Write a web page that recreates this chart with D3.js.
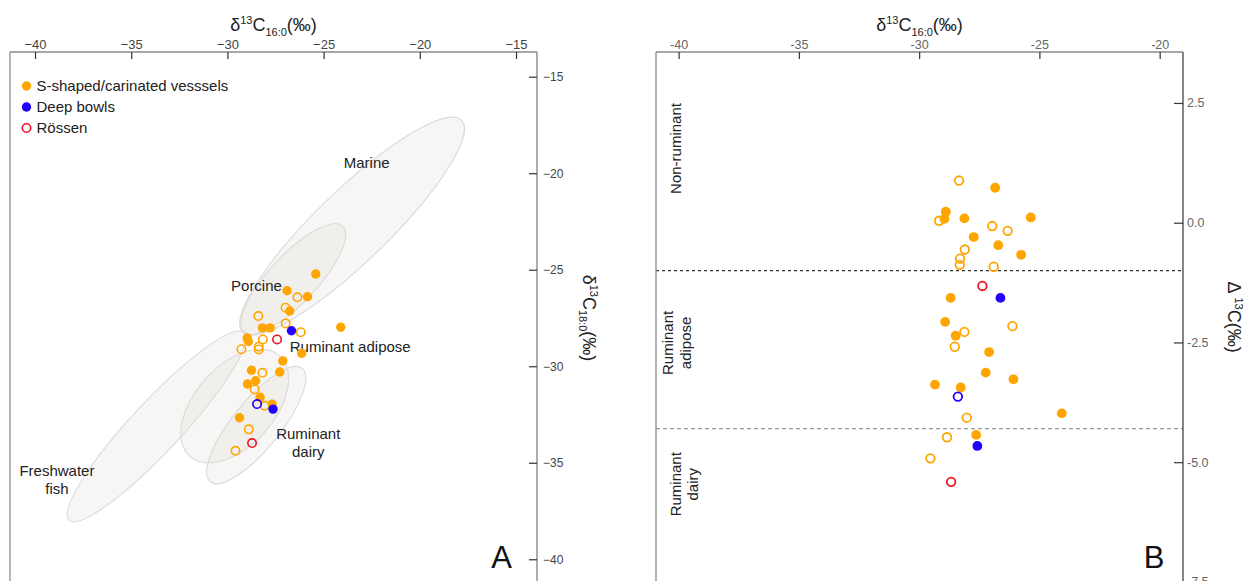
<!DOCTYPE html>
<html>
<head>
<meta charset="utf-8">
<script src="https://cdn.jsdelivr.net/npm/d3@7"></script>
<style>
  html, body { margin: 0; padding: 0; background: #fff; }
  svg { display: block; font-family: "Liberation Sans", Arial, Helvetica, sans-serif; }
</style>
</head>
<body>
<svg id="chart" width="1251" height="581"></svg>
<script>
// ---------------- data ----------------
const groupNames = ["S-shaped/carinated vesssels", "Deep bowls", "Rössen"];

// Panel A: δ13C16:0 (x) against δ13C18:0 (y), ‰
const sShapedFilled16A = [-25.41, -26.90, -25.84, -26.76, -28.18, -27.78, -24.11, -28.97, -28.91, -26.14, -27.12, -28.75, -27.28, -28.53, -28.96, -28.30, -27.68, -29.37];
const sShapedFilled18A = [-25.22, -26.09, -26.40, -27.14, -28.01, -28.01, -27.98, -28.54, -28.72, -29.33, -29.72, -30.21, -30.30, -30.75, -30.92, -31.61, -31.96, -32.67];
const sShapedOpen16A = [-26.36, -26.98, -28.39, -26.97, -26.19, -28.16, -29.27, -28.37, -28.37, -28.18, -28.58, -28.06, -28.89, -29.58];
const sShapedOpen18A = [-26.43, -26.97, -27.40, -27.78, -28.24, -28.61, -29.12, -28.99, -29.13, -30.34, -31.20, -32.05, -33.27, -34.38];
const bowlsFilled16A = [-26.67, -27.63];
const bowlsFilled18A = [-28.16, -32.22];
const bowlsOpen16A = [-28.46];
const bowlsOpen18A = [-31.96];
const rossen16A = [-27.42, -28.72];
const rossen18A = [-28.61, -33.98];

// Panel B: δ13C16:0 (x) against Δ13C (y), ‰
const sShapedFilled16B = [-26.84, -28.89, -28.95, -28.12, -25.36, -27.73, -26.71, -25.76, -28.69, -28.92, -28.48, -27.09, -27.23, -26.08, -29.34, -28.27, -24.07, -27.63];
const sShapedFilledDB = [0.73, 0.23, 0.08, 0.09, 0.11, -0.30, -0.47, -0.67, -1.57, -2.07, -2.36, -2.70, -3.13, -3.27, -3.38, -3.44, -3.98, -4.43];
const sShapedOpen16B = [-28.34, -29.17, -26.96, -26.32, -28.10, -28.30, -28.31, -26.90, -28.12, -26.12, -28.52, -28.02, -28.84, -29.53];
const sShapedOpenDB = [0.88, 0.04, -0.07, -0.17, -0.56, -0.75, -0.88, -0.92, -2.28, -2.16, -2.59, -4.07, -4.48, -4.92];
const bowlsFilled16B = [-26.62, -27.58];
const bowlsFilledDB = [-1.57, -4.66];
const bowlsOpen16B = [-28.39];
const bowlsOpenDB = [-3.63];
const rossen16B = [-27.37, -28.67];
const rossenDB = [-1.32, -5.41];

// Reference ranges (ellipses) in panel A, data units
const refNames = ["Marine", "Porcine", "Freshwater fish", "Ruminant adipose", "Ruminant dairy"];
const refCx = [-23.52, -26.58, -33.69, -29.62, -28.50];
const refCy = [-22.74, -25.48, -33.12, -32.06, -33.05];
const refSemiMajor = [7.91, 3.76, 6.66, 3.50, 3.79];
const refSemiMinor = [1.87, 1.24, 1.30, 2.07, 1.24];
const refAngle = [44, 47, 47, 48, 51];

// Ticks
const ticksA16 = [-40, -35, -30, -25, -20, -15];
const ticksA18 = [-15, -20, -25, -30, -35, -40];
const ticksB16 = [-40, -35, -30, -25, -20];
const ticksBD = [2.5, 0, -2.5, -5, -7.5];

// Δ13C boundaries in panel B
const boundaryValues = [-1, -4.3];

// ---------------- styles ----------------
const groupColor = ["#ffa500", "#2200ff", "#f0141e"];
const FONT = '"Liberation Sans", Arial, Helvetica, sans-serif';

const svg = d3.select("#chart");

// ---------------- scales ----------------
const xA = d3.scaleLinear().domain([-41.30, -13.91]).range([10, 537]);
const yA = d3.scaleLinear().domain([-13.72, -42.11]).range([52, 600]);
const xB = d3.scaleLinear().domain([-40.94, -19.03]).range([656, 1183]);
const yB = d3.scaleLinear().domain([3.564, -7.877]).range([52, 600]);

// series tables
const seriesA = [
  { g: 0, filled: true,  x: sShapedFilled16A, y: sShapedFilled18A },
  { g: 0, filled: false, x: sShapedOpen16A,   y: sShapedOpen18A },
  { g: 1, filled: true,  x: bowlsFilled16A,   y: bowlsFilled18A },
  { g: 1, filled: false, x: bowlsOpen16A,     y: bowlsOpen18A },
  { g: 2, filled: false, x: rossen16A,        y: rossen18A }
];
const seriesB = [
  { g: 0, filled: true,  x: sShapedFilled16B, y: sShapedFilledDB },
  { g: 0, filled: false, x: sShapedOpen16B,   y: sShapedOpenDB },
  { g: 1, filled: true,  x: bowlsFilled16B,   y: bowlsFilledDB },
  { g: 1, filled: false, x: bowlsOpen16B,     y: bowlsOpenDB },
  { g: 2, filled: false, x: rossen16B,        y: rossenDB }
];

// δ13C title with super/subscripts
function deltaTitle(text, sub, size) {
  const s = Math.round(size * 0.62);
  text.append("tspan").text("δ");
  text.append("tspan").attr("font-size", s).attr("dy", -size * 0.4).text("13");
  text.append("tspan").attr("dy", size * 0.4).text("C");
  text.append("tspan").attr("font-size", s).attr("dy", size * 0.25).text(sub);
  text.append("tspan").attr("dy", -size * 0.25).text("(‰)");
}

function drawPoints(g, series, x, y, rFilled, rOpen, sw) {
  series.forEach(s => {
    const pts = s.x.map((v, i) => [v, s.y[i]]);
    g.append("g").selectAll("circle").data(pts).join("circle")
      .attr("cx", d => x(d[0]))
      .attr("cy", d => y(d[1]))
      .attr("r", s.filled ? rFilled : rOpen)
      .attr("fill", s.filled ? groupColor[s.g] : "none")
      .attr("stroke", s.filled ? "none" : groupColor[s.g])
      .attr("stroke-width", s.filled ? 0 : sw);
  });
}

function frame(x, y, leftCol, topCol, rightCol) {
  const [x0, x1] = x.range(), [y0, y1] = y.range();
  svg.append("line").attr("x1", x0).attr("x2", x0).attr("y1", y0).attr("y2", y1).attr("stroke", leftCol).attr("stroke-width", 1.3);
  svg.append("line").attr("x1", x0).attr("x2", x1).attr("y1", y0).attr("y2", y0).attr("stroke", topCol).attr("stroke-width", 1.3);
  svg.append("line").attr("x1", x1).attr("x2", x1).attr("y1", y0).attr("y2", y1).attr("stroke", rightCol).attr("stroke-width", 1.3);
}

function styleAxis(g, size, col) {
  g.select(".domain").remove();
  g.selectAll(".tick line").attr("stroke", "#333").attr("stroke-width", 1.2);
  g.selectAll(".tick text").attr("fill", col).attr("font-size", size).attr("font-family", FONT);
}

// ================= Panel A =================
const gA = svg.append("g");

// reference ellipses
const kA = xA(1) - xA(0);
refNames.forEach((n, i) => {
  gA.append("ellipse")
    .attr("transform", `translate(${xA(refCx[i])},${yA(refCy[i])}) rotate(${-refAngle[i]})`)
    .attr("rx", refSemiMajor[i] * kA)
    .attr("ry", refSemiMinor[i] * kA)
    .attr("fill", "rgb(222,216,208)")
    .attr("fill-opacity", 0.24)
    .attr("stroke", "#dadada")
    .attr("stroke-width", 1.1);
});

// reference labels
const labA = gA.append("g").attr("font-size", 15).attr("fill", "#222");
labA.append("text").attr("x", xA(-22.76)).attr("y", yA(-19.73)).attr("text-anchor", "middle").text("Marine");
labA.append("text").attr("x", xA(-28.49)).attr("y", yA(-26.09)).attr("text-anchor", "middle").text("Porcine");
labA.append("text").attr("x", xA(-26.76)).attr("y", yA(-29.26)).attr("text-anchor", "start").text("Ruminant adipose");
const dairyA = labA.append("text").attr("y", yA(-33.79)).attr("text-anchor", "middle");
dairyA.append("tspan").attr("x", xA(-25.80)).text("Ruminant");
dairyA.append("tspan").attr("x", xA(-25.80)).attr("dy", 18).text("dairy");
const fishA = labA.append("text").attr("y", yA(-35.67)).attr("text-anchor", "middle");
fishA.append("tspan").attr("x", xA(-38.86)).text("Freshwater");
fishA.append("tspan").attr("x", xA(-38.86)).attr("dy", 18.5).text("fish");

drawPoints(gA, seriesA, xA, yA, 4.7, 4.2, 1.6);

frame(xA, yA, "#909090", "#8a8a8a", "#808080");

const axTopA = svg.append("g").attr("transform", `translate(0,${yA.range()[0]})`)
  .call(d3.axisTop(xA).tickValues(ticksA16).tickSize(-7).tickSizeOuter(0).tickPadding(3));
styleAxis(axTopA, 13, "#444");

const axRightA = svg.append("g").attr("transform", `translate(${xA.range()[1]},0)`)
  .call(d3.axisRight(yA).tickValues(ticksA18).tickSize(-8).tickSizeOuter(0).tickPadding(6));
styleAxis(axRightA, 12, "#444");

const titleA = svg.append("text")
  .attr("x", (xA.range()[0] + xA.range()[1]) / 2).attr("y", 31)
  .attr("text-anchor", "middle").attr("font-size", 18).attr("fill", "#222");
deltaTitle(titleA, "16:0", 18);

const titleA18 = svg.append("text")
  .attr("transform", `translate(583,${(yA(-25) + yA(-30)) / 2}) rotate(90)`)
  .attr("text-anchor", "middle").attr("font-size", 18).attr("fill", "#222");
deltaTitle(titleA18, "18:0", 18);

// legend
const legend = svg.append("g").attr("font-size", 15).attr("fill", "#222");
groupNames.forEach((n, i) => {
  const cy = 86 + i * 21;
  legend.append("circle")
    .attr("cx", 26.5).attr("cy", cy)
    .attr("r", i === 2 ? 4.2 : 4.7)
    .attr("fill", i === 2 ? "none" : groupColor[i])
    .attr("stroke", i === 2 ? groupColor[i] : "none")
    .attr("stroke-width", 1.6);
  legend.append("text").attr("x", 36.5).attr("y", cy + 5.3).text(n);
});

svg.append("text").attr("x", xA(-15.75)).attr("y", yA(-40.46))
  .attr("text-anchor", "middle").attr("font-size", 31).attr("fill", "#111").text("A");

// ================= Panel B =================
const gB = svg.append("g");

// Δ13C boundaries
boundaryValues.forEach((v, i) => {
  gB.append("line")
    .attr("x1", xB.range()[0]).attr("x2", xB.range()[1])
    .attr("y1", yB(v)).attr("y2", yB(v))
    .attr("stroke", i === 0 ? "#333" : "#999")
    .attr("stroke-width", 1.1)
    .attr("stroke-dasharray", i === 0 ? "3,3" : "4,3");
});

// zone labels
const labB = gB.append("g").attr("font-size", 15).attr("fill", "#222").attr("text-anchor", "middle");
labB.append("text")
  .attr("transform", `translate(${xB(-39.90)},${yB(1.55)}) rotate(-90)`).text("Non-ruminant");
const adiposeB = labB.append("text")
  .attr("transform", `translate(${xB(-40.23)},${yB(-2.51)}) rotate(-90)`);
adiposeB.append("tspan").attr("x", 0).text("Ruminant");
adiposeB.append("tspan").attr("x", 0).attr("dy", 18).text("adipose");
const dairyB = labB.append("text")
  .attr("transform", `translate(${xB(-39.90)},${yB(-5.46)}) rotate(-90)`);
dairyB.append("tspan").attr("x", 0).text("Ruminant");
dairyB.append("tspan").attr("x", 0).attr("dy", 17).text("dairy");

drawPoints(gB, seriesB, xB, yB, 4.9, 4.3, 1.8);

frame(xB, yB, "#8a8a8a", "#8a8a8a", "#444");

const axTopB = svg.append("g").attr("transform", `translate(0,${yB.range()[0]})`)
  .call(d3.axisTop(xB).tickValues(ticksB16).tickSize(-7).tickSizeOuter(0).tickPadding(3).tickFormat(d => String(d)));
styleAxis(axTopB, 12.5, "#666");

const axRightB = svg.append("g").attr("transform", `translate(${xB.range()[1]},0)`)
  .call(d3.axisRight(yB).tickValues(ticksBD).tickSize(-9).tickSizeOuter(0).tickPadding(4).tickFormat(d => d.toFixed(1)));
styleAxis(axRightB, 12.5, "#666");

const titleB = svg.append("text")
  .attr("x", (xB.range()[0] + xB.range()[1]) / 2).attr("y", 31)
  .attr("text-anchor", "middle").attr("font-size", 18).attr("fill", "#222");
deltaTitle(titleB, "16:0", 18);

const titleBD = svg.append("text")
  .attr("transform", `translate(1228,${yB(-1.97)}) rotate(90)`)
  .attr("text-anchor", "middle").attr("font-size", 18).attr("fill", "#222");
titleBD.append("tspan").text("Δ ");
titleBD.append("tspan").attr("font-size", 11).attr("dy", -7).text("13");
titleBD.append("tspan").attr("dy", 7).text("C(‰)");

svg.append("text").attr("x", xB(-20.23)).attr("y", yB(-7.21))
  .attr("text-anchor", "middle").attr("font-size", 31).attr("fill", "#111").text("B");
</script>
</body>
</html>
